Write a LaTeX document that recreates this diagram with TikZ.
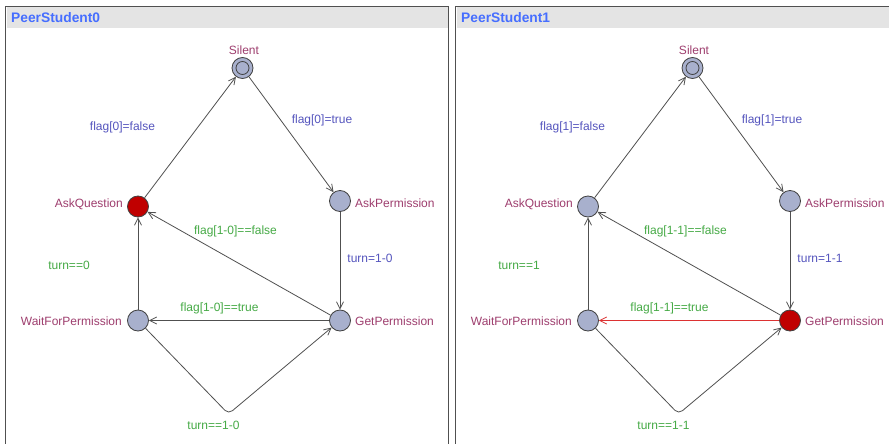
\documentclass[tikz,border=0pt]{standalone}
\usepackage{fontspec}
\setmainfont{Liberation Sans}
\usetikzlibrary{arrows.meta}

\definecolor{nodefill}{RGB}{168,176,205}
\definecolor{nodeline}{RGB}{64,64,64}
\definecolor{activered}{RGB}{192,0,0}
\definecolor{edgegray}{RGB}{80,80,80}
\definecolor{edgered}{RGB}{220,50,50}
\definecolor{locpurple}{RGB}{158,62,110}
\definecolor{assignblue}{RGB}{85,85,190}
\definecolor{guardgreen}{RGB}{70,170,70}
\definecolor{titleblue}{RGB}{70,110,255}
\definecolor{titlebar}{RGB}{228,228,228}
\definecolor{frameline}{RGB}{80,80,80}

\tikzset{
  loc/.style={circle, draw=nodeline, line width=0.8pt, fill=nodefill,
    minimum size=21pt, inner sep=0pt},
  locname/.style={text=locpurple, font=\fontsize{12}{14}\selectfont, inner sep=0pt},
  assignlbl/.style={text=assignblue, font=\fontsize{12}{14}\selectfont, inner sep=0pt, anchor=base},
  guardlbl/.style={text=guardgreen, font=\fontsize{12}{14}\selectfont, inner sep=0pt, anchor=base},
  edge/.style={draw=edgegray, line width=0.8pt,
    -{Straight Barb[length=7pt,width=7pt,line width=0.8pt]}},
  panelframe/.style={draw=frameline, line width=1.6pt, fill=white},
  paneltitle/.style={text=titleblue, font=\bfseries\fontsize{13.8}{15}\selectfont,
    inner sep=0pt, anchor=base west}
}

% #1 horizontal offset, #2 process index, #3 AskQuestion fill,
% #4 GetPermission fill, #5 colour of the GetPermission -> WaitForPermission edge
\newcommand\peerpanel[5]{%
\begin{scope}[xshift=#1, name prefix=p#2-]
  % window frame and title bar
  \path[panelframe] (5.5,6.5) rectangle (448.5,470);
  \fill[titlebar] (6.5,7.5) rectangle (447.5,28);
  \node[paneltitle] (title) at (11,23) {PeerStudent#2};

  % locations
  \node[loc] (S) at (242.5,68) {};
  \draw[draw=nodeline, line width=0.8pt, fill=nodefill] (S.center) circle[radius=6.5];
  \node[loc, fill=#3] (AQ) at (138,206.5) {};
  \node[loc] (AP) at (340,201) {};
  \node[loc] (W) at (138,320.5) {};
  \node[loc, fill=#4] (G) at (340,320.5) {};
  \coordinate (nail) at (228.5,414);

  % location names
  \node[locname, anchor=base] (nS) at (244,54.5) {Silent};
  \node[locname, anchor=base east] (nAQ) at (123,207) {AskQuestion};
  \node[locname, anchor=base west] (nAP) at (355,207) {AskPermission};
  \node[locname, anchor=base east] (nW) at (122,325.5) {WaitForPermission};
  \node[locname, anchor=base west] (nG) at (355,325.5) {GetPermission};

  % transitions
  \draw[edge] (AQ) -- (S);
  \draw[edge] (S) -- (AP);
  \draw[edge] (AP) -- (G);
  \draw[edge] (G) -- (AQ);
  \draw[edge] (W) -- (AQ);
  \draw[edge, draw=#5] (G) -- (W);
  \draw[edge, rounded corners=5pt] (W) -- (nail) -- (G);

  % guards and updates
  \node[assignlbl] (u1) at (122.5,130) {flag[#2]=false};
  \node[assignlbl] (u2) at (322,123) {flag[#2]=true};
  \node[guardlbl] (g1) at (235.5,234.5) {flag[1-#2]==false};
  \node[guardlbl] (g2) at (69,269.5) {turn==#2};
  \node[assignlbl] (u3) at (370,262.5) {turn=1-#2};
  \node[guardlbl] (g3) at (219.5,311.5) {flag[1-#2]==true};
  \node[guardlbl] (g4) at (213.5,429.5) {turn==1-#2};
\end{scope}}

\begin{document}
\begin{tikzpicture}[x=1pt, y=-1pt]
  \clip (0,0) rectangle (889,444);
  \fill[white] (0,0) rectangle (889,444);
  \peerpanel{0}{0}{activered}{nodefill}{edgegray}
  \peerpanel{450}{1}{nodefill}{activered}{edgered}
\end{tikzpicture}
\end{document}
